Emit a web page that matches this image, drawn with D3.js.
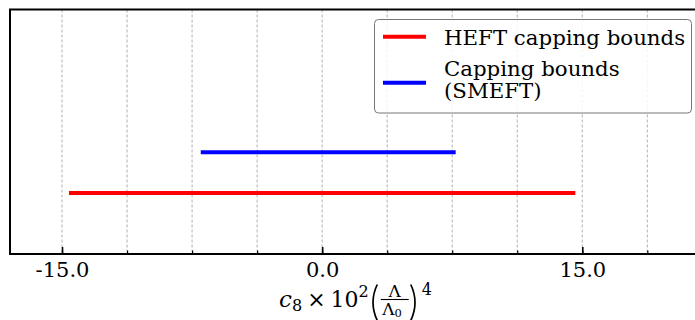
<!DOCTYPE html>
<html>
<head>
<meta charset="utf-8">
<script src="https://cdn.jsdelivr.net/npm/d3@7"></script>
<style>
  html, body { margin: 0; padding: 0; background: #ffffff; }
  svg { display: block; }
  text { font-family: "DejaVu Serif", serif; }
</style>
</head>
<body>
<script>
// ---- data ----
const seriesNames = ["HEFT capping bounds", "Capping bounds\n(SMEFT)"];
const rowPositions = [0, 1];
const lowerBounds = [-14.6, -7.0];
const upperBounds = [14.6, 7.7];
const gridTicks = [-15, -11.25, -7.5, -3.75, 0, 3.75, 7.5, 11.25, 15, 18.75];
const majorTicks = [-15, 0, 15];
const majorTickLabels = ["-15.0", "0.0", "15.0"];
const xDomain = [-18, 21.5];
const yDomain = [-1.5, 4.5];

const seriesColors = ["#ff0000", "#0000ff"];

const W = 695, H = 320;
const plot = { left: 10, top: 9.5, right: 695, bottom: 254 };

const svg = d3.select("body").append("svg").attr("width", W).attr("height", H);

const x = d3.scaleLinear().domain(xDomain).range([plot.left, plot.right]);
const y = d3.scaleLinear().domain(yDomain).range([plot.bottom, plot.top]);

// grid
svg.append("g").selectAll("line").data(gridTicks).join("line")
  .attr("x1", d => x(d)).attr("x2", d => x(d))
  .attr("y1", plot.top).attr("y2", plot.bottom)
  .attr("stroke", "#b0b0b0").attr("stroke-width", 1)
  .attr("stroke-dasharray", "3,2");

// bars (interval lines)
const rows = seriesNames.map((name, i) => ({ name, lo: lowerBounds[i], hi: upperBounds[i], pos: rowPositions[i], color: seriesColors[i] }));
svg.append("g").selectAll("line").data(rows).join("line")
  .attr("x1", d => x(d.lo)).attr("x2", d => x(d.hi))
  .attr("y1", d => y(d.pos)).attr("y2", d => y(d.pos))
  .attr("stroke", d => d.color).attr("stroke-width", 4);

// bottom axis: minor ticks (inward)
const minorAxis = d3.axisBottom(x).tickValues(gridTicks).tickSizeInner(-3.5).tickSizeOuter(0).tickFormat("");
const gMinor = svg.append("g").attr("transform", `translate(0,${plot.bottom})`).call(minorAxis);
gMinor.select(".domain").remove();
gMinor.selectAll(".tick line").attr("stroke", "#000").attr("stroke-width", 1.2);

const majorAxis = d3.axisBottom(x).tickValues(majorTicks).tickSizeInner(-7).tickSizeOuter(0)
  .tickFormat((d, i) => majorTickLabels[i]).tickPadding(14);
const gMajor = svg.append("g").attr("transform", `translate(0,${plot.bottom})`).call(majorAxis);
gMajor.select(".domain").remove();
gMajor.selectAll(".tick line").attr("stroke", "#000").attr("stroke-width", 1.6);
gMajor.selectAll(".tick text")
  .attr("font-family", "DejaVu Serif").attr("font-size", 21).attr("fill", "#000")
  .attr("dy", null).attr("y", 23);

// frame
svg.append("rect")
  .attr("x", plot.left).attr("y", plot.top)
  .attr("width", plot.right - plot.left + 2).attr("height", plot.bottom - plot.top)
  .attr("fill", "none").attr("stroke", "#000").attr("stroke-width", 2);

// legend
const leg = svg.append("g");
leg.append("rect")
  .attr("x", 374.5).attr("y", 19.5).attr("width", 317).attr("height", 93.5).attr("rx", 4)
  .attr("fill", "#fff").attr("fill-opacity", 0.85)
  .attr("stroke", "#777").attr("stroke-width", 1);
const legY = [36.7, 82.7];
const legTextLines = seriesNames.map(s => s.split("\n"));
const legBaselines = [45, 75.5];
rows.forEach((r, i) => {
  leg.append("line").attr("x1", 383).attr("x2", 426).attr("y1", legY[i]).attr("y2", legY[i])
    .attr("stroke", r.color).attr("stroke-width", 4);
  const t = leg.append("text").attr("x", 444).attr("y", legBaselines[i])
    .attr("font-size", 21.3).attr("fill", "#000");
  legTextLines[i].forEach((line, j) => {
    t.append("tspan").attr("x", 444).attr("dy", j === 0 ? 0 : 22).text(line);
  });
});

// x label (math): c_8 × 10^2 (Λ/Λ_0)^4
const lab = svg.append("g");
let cx = 0;
const base = 0;
function piece(str, size, dy, opts = {}) {
  const t = lab.append("text").attr("x", cx).attr("y", base + dy)
    .attr("font-size", size).attr("fill", "#000").text(str);
  if (opts.italic) t.attr("font-style", "italic");
  if (opts.family) t.attr("font-family", opts.family);
  cx += t.node().getComputedTextLength() + (opts.after || 0);
  return t;
}
piece("c", 23, 0, { italic: true });
piece("8", 16, 4, { after: 5 });
piece("×", 22, 0, { family: "DejaVu Sans", after: 5 });
piece("10", 22, 0);
piece("2", 16, -9.5, { after: 1 });
function paren(x0, left) {
  const top = -22, bot = 14, w = 6.5;
  const xa = left ? x0 + w : x0;
  const xc = left ? x0 - 2 : x0 + w + 2;
  lab.append("path")
    .attr("d", `M${xa},${top} Q${xc},${(top + bot) / 2} ${xa},${bot}`)
    .attr("fill", "none").attr("stroke", "#000").attr("stroke-width", 1.7);
}
paren(cx + 1, true);
cx += 10;
// fraction
const fracW = 28;
const fx = cx + 1;
lab.append("line").attr("x1", fx).attr("x2", fx + fracW).attr("y1", -7).attr("y2", -7)
  .attr("stroke", "#000").attr("stroke-width", 1.1);
lab.append("text").attr("x", fx + fracW / 2).attr("y", -9.5).attr("text-anchor", "middle")
  .attr("font-size", 17).attr("fill", "#000").text("Λ");
const lam0 = lab.append("text").attr("x", fx + 1.5).attr("y", 8)
  .attr("font-size", 17).attr("fill", "#000");
lam0.append("tspan").text("Λ");
lam0.append("tspan").attr("font-size", 11.5).attr("dy", 2.5).text("0");
cx = fx + fracW + 2;
paren(cx, false);
cx += 11;
piece("4", 16, -11.5);
const labW = cx;
const centerX = (plot.left + plot.right) / 2 + 3;
lab.attr("transform", `translate(${centerX - labW / 2},306.5)`);
</script>
</body>
</html>
